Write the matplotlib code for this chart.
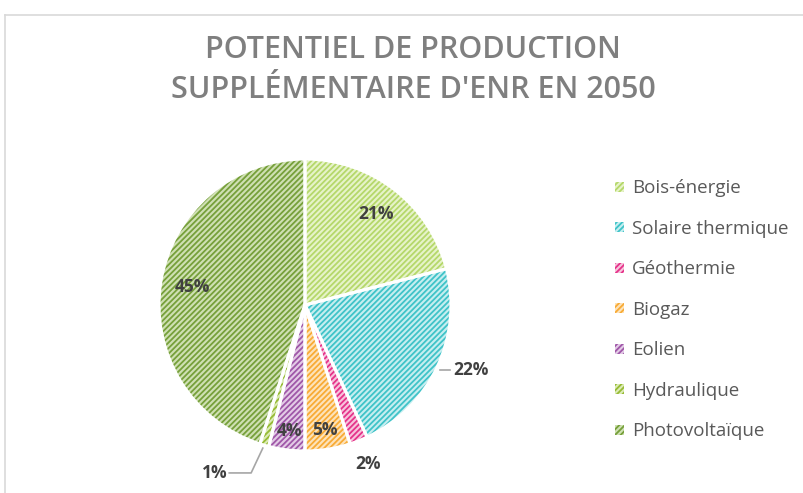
import matplotlib
matplotlib.use("Agg")
import matplotlib.pyplot as plt
from matplotlib.patches import Patch
from matplotlib.lines import Line2D
import numpy as np

# data
labels = ["Bois-énergie", "Solaire thermique", "Géothermie", "Biogaz",
          "Eolien", "Hydraulique", "Photovoltaïque"]
values = [21, 22, 2, 5, 4, 1, 45]
pct_labels = ["21%", "22%", "2%", "5%", "4%", "1%", "45%"]

# pattern colours (hatch colour, background tint)
hatch_colors = ["#b5d86a", "#3fc3c8", "#e5338a", "#f8ab35", "#9f57a8", "#97bb35", "#76a03a"]
face_colors = ["#e6f3c9", "#c6eef0", "#f7c4dc", "#fde3bb", "#e3cbe6", "#dcebb7", "#cfe0b3"]

# label radius factor (fraction of radius) for each slice
label_r = [0.79, 1.22, 1.17, 0.87, 0.87, 1.25, 0.78]

plt.rcParams["hatch.linewidth"] = 1.3
plt.rcParams["font.family"] = ["Open Sans", "DejaVu Sans"]

W, H = 804, 493
fig = plt.figure(figsize=(W / 100, H / 100), dpi=100)

# chart frame (light grey border on left and top)
fig.add_artist(Line2D([5 / W, 5 / W], [0, 1 - 15 / H], color="#d9d9d9", lw=1.2,
                      transform=fig.transFigure))
fig.add_artist(Line2D([5 / W, 1], [1 - 15 / H, 1 - 15 / H], color="#d9d9d9", lw=1.2,
                      transform=fig.transFigure))

cx, cy, r = 305, 305, 146
ax = fig.add_axes([(cx - r) / W, (H - cy - r) / H, 2 * r / W, 2 * r / H])

wedges, _ = ax.pie(values, startangle=90, counterclock=False,
                   colors=face_colors,
                   wedgeprops=dict(linewidth=0, hatch="//////"))
for w, hc in zip(wedges, hatch_colors):
    w.set_edgecolor(hc)
    w.set_linewidth(0)

# white separators on top
ax.pie(values, startangle=90, counterclock=False, colors=["none"] * len(values),
       wedgeprops=dict(linewidth=2.2, edgecolor="white"))

ax.set_xlim(-1, 1)
ax.set_ylim(-1, 1)
ax.set_aspect("equal")
ax.axis("off")

lead_color = "#a6a6a6"
txt = dict(fontsize=12.5, fontweight="bold", color="#404040", clip_on=False)
for i, (w, lab) in enumerate(zip(wedges, pct_labels)):
    mid = np.deg2rad((w.theta1 + w.theta2) / 2)
    rr = label_r[i]
    x, y = rr * np.cos(mid), rr * np.sin(mid)
    if lab == "22%":
        # leader from wedge edge to label
        ex, ey = 1.0 * np.cos(mid), 1.0 * np.sin(mid)
        ax.plot([ex + 0.02, ex + 0.09], [ey - 0.02, ey - 0.02], color=lead_color, lw=1.2, clip_on=False)
        ax.text(ex + 0.11, ey - 0.02, lab, ha="left", va="center", **txt)
    elif lab == "1%":
        ex, ey = 1.0 * np.cos(mid), 1.0 * np.sin(mid)
        bx, by = ex - 0.09, ey - 0.19
        ax.plot([ex - 0.01, bx, bx - 0.15], [ey - 0.02, by, by], color=lead_color, lw=1.2, clip_on=False)
        ax.text(bx - 0.16, by, lab, ha="right", va="center", **txt)
    else:
        ax.text(x, y, lab, ha="center", va="center", **txt)

title_kw = dict(ha="center", va="center", fontsize=22, fontweight="semibold", color="#7f7f7f")
fig.text(413 / W, 1 - 50 / H, "POTENTIEL DE PRODUCTION", **title_kw)
fig.text(413 / W, 1 - 90 / H, "SUPPLÉMENTAIRE D'ENR EN 2050", **title_kw)

handles = [Patch(facecolor=fc, edgecolor=hc, hatch="//////", linewidth=0)
           for fc, hc in zip(face_colors, hatch_colors)]
fig.legend(handles, labels, loc="upper left", bbox_to_anchor=(608 / W, 1 - 172 / H),
           frameon=False, fontsize=13.5, labelcolor="#595959",
           handlelength=0.45, handleheight=0.45, handletextpad=0.45,
           labelspacing=1.2, borderaxespad=0)

fig.savefig("out.png", dpi=100)
